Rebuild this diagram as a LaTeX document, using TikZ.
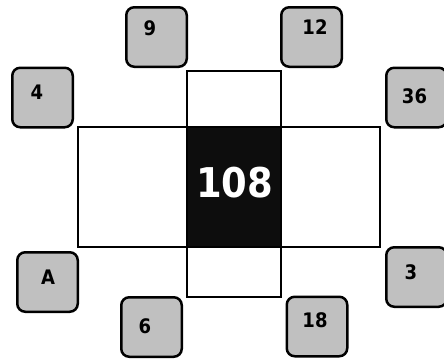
\documentclass[tikz,border=0pt]{standalone}
\usepackage{fontspec}
\setmainfont{DejaVu Sans Condensed}
\usetikzlibrary{positioning}
\definecolor{tilegray}{RGB}{192,192,192}
\definecolor{coreblack}{RGB}{13,13,13}
\tikzset{
  tile/.style ={draw,rounded corners=8pt,line width=2.5pt,fill=tilegray,
                minimum width=60.5pt,minimum height=59.5pt,inner sep=0pt},
  num/.style  ={inner sep=0pt,font=\fontsize{20}{24}\selectfont\bfseries},
  arm/.style  ={draw,line width=2.2pt,fill=white},
  core/.style ={inner sep=0pt,font=\fontsize{41}{48}\selectfont\bfseries,text=white},
}
\begin{document}
\begin{tikzpicture}[x=1pt,y=-1pt]
\useasboundingbox (0,0) rectangle (444,360);
% cross in the middle
\draw[arm] (78,127) rectangle (380,247);
\draw[arm] (187,71) rectangle (281,297);
\draw[line width=2.2pt,fill=coreblack] (187,127) rectangle (281,247);
\node[core] (C) at (234.5,183) {108};
% grey tiles round the cross
\node[tile] (T9)  at (156.5,37)  {};
\node[tile] (T12) at (311.5,37)  {};
\node[tile] (T4)  at (42.5,97.5) {};
\node[tile] (T36) at (416.5,97.5) {};
\node[tile] (TA)  at (47.5,282)  {};
\node[tile] (T3)  at (416.5,277) {};
\node[tile] (T6)  at (151.5,327) {};
\node[tile] (T18) at (317,326.5) {};
% numbers on the tiles
\node[num] (N9)  at (150,28)  {9};
\node[num] (N12) at (315,27)  {12};
\node[num] (N4)  at (37,92)   {4};
\node[num] (N36) at (414.5,96) {36};
\node[num] (NA)  at (48,277)  {A};
\node[num] (N3)  at (411,272) {3};
\node[num] (N6)  at (145,326) {6};
\node[num] (N18) at (315,320) {18};
\end{tikzpicture}
\end{document}
